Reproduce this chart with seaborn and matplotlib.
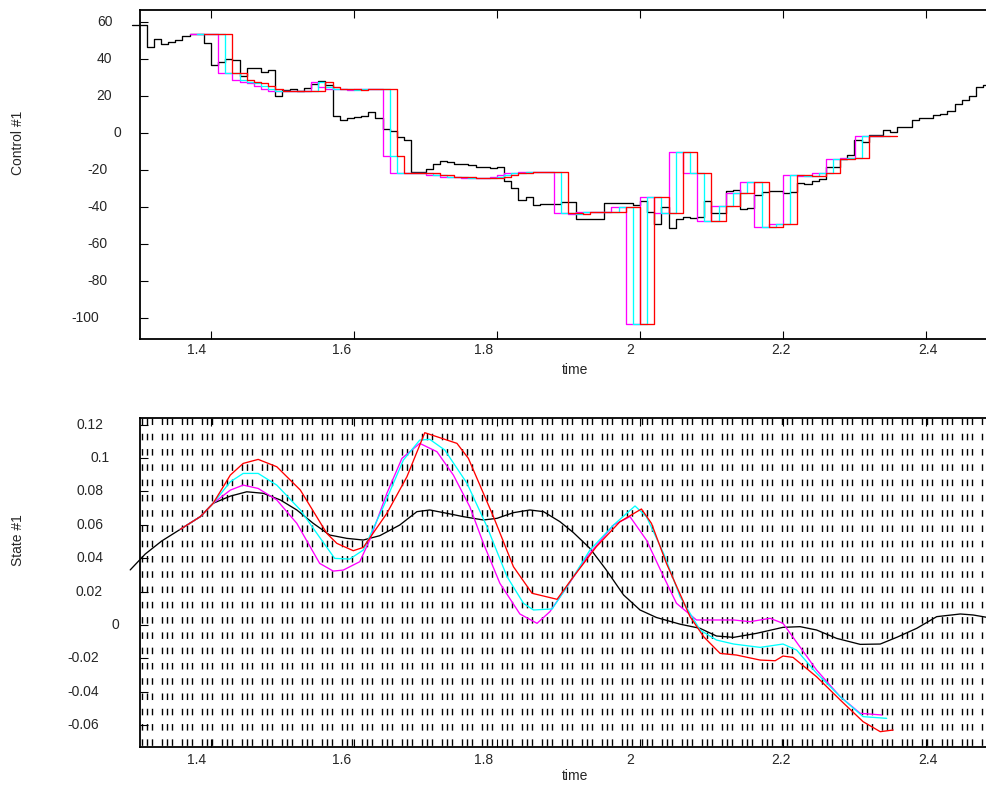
import numpy as np
import pandas as pd
import matplotlib
matplotlib.use("Agg")
import matplotlib.pyplot as plt
import seaborn as sns

sns.set_theme(style="white")
plt.rcParams['font.family'] = ['Liberation Sans', 'DejaVu Sans']

# ---------------- data ----------------
# measured control, sampled every 0.01 s starting at ctrl_t0
ctrl_t0 = 1.29
ctrl_dt = 0.01
ctrl_measured = [
    58.4, 58.4, 46.6, 50.6, 48.0, 49.0, 50.3, 52.4, 53.7, 53.7,
    48.8, 36.8, 38.2, 40.0, 39.5, 30.8, 35.1, 35.1, 33.1, 34.0,
    20.0, 23.2, 23.6, 22.9, 24.3, 26.3, 28.1, 25.8, 9.2, 7.0,
    7.9, 8.5, 9.4, 11.2, 7.9, 2.0, 1.2, -2.3, -3.6, -20.9,
    -21.1, -19.3, -16.8, -15.1, -15.7, -16.9, -16.9, -17.5, -18.2, -18.2,
    -18.7, -18.2, -25.8, -29.5, -36.2, -34.8, -38.9, -38.4, -38.4, -38.4,
    -37.1, -37.1, -46.7, -46.7, -46.7, -46.7, -38.0, -37.6, -38.0, -38.0,
    -38.9, -36.6, -42.5, -49.2, -39.8, -51.5, -46.7, -45.6, -46.1, -45.6,
    -36.8, -43.0, -43.0, -31.5, -31.0, -41.3, -40.7, -33.5, -31.7, -31.4,
    -31.4, -32.3, -31.7, -26.8, -27.6, -25.8, -25.0, -18.2, -18.2, -14.2,
    -11.9, -3.8, -4.9, -1.3, -1.3, 1.6, 0.5, 3.1, 3.1, 7.0,
    8.0, 8.0, 9.5, 10.5, 12.0, 15.7, 17.8, 20.0, 25.0, 26.0,
    27.0,
]

# commanded control, sampled every 0.01 s from cmd_t0, shown with three delays
cmd_t0 = 1.37
cmd_values = [
    53.7, 53.7, 53.7, 53.7, 32.3, 32.3, 28.6, 27.7, 26.9, 25.4,      # 1.37
    23.6, 22.7, 22.7, 22.7, 22.7, 22.7, 22.7, 27.6, 25.0, 23.6,      # 1.47
    23.6, 23.6, 23.2, 23.6, 23.6, 23.6, 23.6, -12.4, -21.4, -21.4,   # 1.57
    -21.8, -21.8, -21.8, -22.7, -22.7, -23.6, -23.6, -23.6, -24.3, -24.3,  # 1.67
    -24.3, -24.3, -23.6, -22.7, -21.8, -21.8, -21.1, -21.1, -21.1, -21.1,  # 1.77
    -21.1, -43.5, -43.0, -44.0, -42.5, -42.5, -42.5, -42.5, -42.5, -39.8,  # 1.87
    -39.8, -103.4, -103.4, -34.4, -34.4, -43.4, -43.4, -10.1, -10.1, -21.5,  # 1.97
    -21.5, -47.6, -47.6, -39.5, -39.5, -32.6, -32.6, -26.3, -26.3, -50.6,  # 2.07
    -50.6, -49.2, -49.2, -22.7, -22.7, -23.5, -23.5, -21.5, -21.5, -14.1,  # 2.17
    -14.1, -13.4, -13.4, -1.6, -1.6, -1.6, -1.6,                          # 2.27
]
cmd_delays = [0.0, 0.01, 0.02]
cmd_colors = ["#ff00ff", "#00ffff", "#ff0000"]

# state #1 trajectories
state_black_t = [1.287, 1.308, 1.331, 1.357, 1.385, 1.403, 1.427, 1.450, 1.473, 1.497,
                 1.520, 1.543, 1.566, 1.590, 1.613, 1.636, 1.664, 1.688, 1.706, 1.730,
                 1.753, 1.781, 1.800, 1.823, 1.846, 1.865, 1.888, 1.907, 1.930, 1.953,
                 1.977, 2.000, 2.023, 2.056, 2.084, 2.107, 2.131, 2.163, 2.200, 2.224,
                 2.247, 2.275, 2.308, 2.336, 2.359, 2.387, 2.415, 2.448, 2.466, 2.485, 2.50]
state_black = [0.033, 0.0425, 0.0503, 0.0573, 0.0649, 0.0729, 0.0772, 0.0798, 0.0789, 0.0749,
               0.0689, 0.0609, 0.0539, 0.0519, 0.0509, 0.0535, 0.0599, 0.0679, 0.0689, 0.0669,
               0.0649, 0.0629, 0.0639, 0.0673, 0.0689, 0.0679, 0.0619, 0.0553, 0.0459, 0.0329,
               0.018, 0.009, 0.0045, 0.0005, -0.002, -0.0066, -0.0074, -0.005, -0.0014, -0.001,
               -0.003, -0.008, -0.0116, -0.0114, -0.0074, -0.002, 0.005, 0.0066, 0.006, 0.0046, 0.0038]

state_mag_t = [1.357, 1.385, 1.403, 1.427, 1.445, 1.466, 1.492, 1.520, 1.552, 1.571,
               1.585, 1.608, 1.622, 1.646, 1.667, 1.692, 1.716, 1.739, 1.762, 1.781,
               1.804, 1.832, 1.856, 1.874, 1.898, 1.926, 1.963, 1.986, 2.009, 2.033,
               2.051, 2.079, 2.107, 2.131, 2.154, 2.182, 2.200, 2.247, 2.280, 2.308, 2.338]
state_mag = [0.0573, 0.0649, 0.0729, 0.0808, 0.0838, 0.0818, 0.0749, 0.0609, 0.0369, 0.0323,
             0.0329, 0.0379, 0.0509, 0.0789, 0.0998, 0.1088, 0.1038, 0.0898, 0.0708, 0.0489,
             0.025, 0.0066, 0.001, 0.008, 0.023, 0.0409, 0.0599, 0.0649, 0.0509, 0.029,
             0.013, 0.003, 0.003, 0.003, 0.002, 0.004, 0.001, -0.027, -0.0429, -0.0529, -0.0539]

state_cyan_t = [1.357, 1.385, 1.403, 1.427, 1.445, 1.466, 1.492, 1.525, 1.548, 1.573,
                1.594, 1.613, 1.641, 1.669, 1.692, 1.706, 1.727, 1.758, 1.786, 1.814,
                1.837, 1.851, 1.877, 1.898, 1.930, 1.963, 1.993, 2.009, 2.033, 2.056,
                2.084, 2.107, 2.131, 2.168, 2.200, 2.219, 2.247, 2.280, 2.312, 2.345]
state_cyan = [0.0573, 0.0649, 0.0729, 0.0858, 0.0908, 0.0908, 0.0838, 0.0689, 0.0549, 0.0399,
              0.0395, 0.0449, 0.0708, 0.0988, 0.1108, 0.1112, 0.1048, 0.0849, 0.0589, 0.029,
              0.013, 0.009, 0.0096, 0.023, 0.0449, 0.0599, 0.0713, 0.0649, 0.0429, 0.017,
              -0.003, -0.009, -0.0114, -0.0134, -0.0114, -0.015, -0.0289, -0.0429, -0.0549, -0.0559]

state_red_t = [1.357, 1.385, 1.403, 1.427, 1.445, 1.466, 1.492, 1.525, 1.562, 1.576,
               1.599, 1.613, 1.646, 1.674, 1.699, 1.744, 1.760, 1.795, 1.823, 1.849,
               1.884, 1.907, 1.939, 1.972, 2.002, 2.016, 2.037, 2.070, 2.089, 2.112,
               2.135, 2.168, 2.189, 2.200, 2.214, 2.247, 2.280, 2.312, 2.336, 2.354]
state_red = [0.0573, 0.0649, 0.0729, 0.0898, 0.0968, 0.0992, 0.0948, 0.0808, 0.0549, 0.0489,
             0.0445, 0.0465, 0.0669, 0.0888, 0.1152, 0.1088, 0.0998, 0.0649, 0.0349, 0.019,
             0.0154, 0.029, 0.0469, 0.0619, 0.0695, 0.0609, 0.0369, 0.005, -0.007, -0.017,
             -0.018, -0.021, -0.0214, -0.0186, -0.0194, -0.031, -0.0449, -0.0579, -0.0639, -0.0629]

# sample instants marked on the state plot: groups of three every frame
frame_t0 = 1.3031
frame_period = 0.02797
frame_offsets = [0.0, 0.00727, 0.01469]
n_frames = 43

xticks = [1.4, 1.6, 1.8, 2.0, 2.2, 2.4]
xtick_labels = ["1.4", "1.6", "1.8", "2", "2.2", "2.4"]
xtick_label_shift_px = [-14, -12, -13, -10, -2, 2]
yticks_ctrl = [60, 40, 20, 0, -20, -40, -60, -80, -100]
yticks_state = [0.12, 0.1, 0.08, 0.06, 0.04, 0.02, 0.0, -0.02, -0.04, -0.06]
ytick_state_labels = ["0.12", "0.1", "0.08", "0.06", "0.04", "0.02", "0", "-0.02", "-0.04", "-0.06"]

# ---------------- figure ----------------
W, H = 987, 787
fig = plt.figure(figsize=(W / 100, H / 100), dpi=100)
ax1 = fig.add_axes([139.5 / W, 1 - 339 / H, 858 / W, 329 / H])
ax2 = fig.add_axes([139.5 / W, 1 - 746.7 / H, 858 / W, 328.7 / H])

LW = 0.95

# control plot
n_ctrl = len(ctrl_measured)
ctrl_df = pd.DataFrame({
    "t": ctrl_t0 + ctrl_dt * np.arange(n_ctrl + 1),
    "u": ctrl_measured + [ctrl_measured[-1]],
})
sns.lineplot(data=ctrl_df, x="t", y="u", ax=ax1, color="black", lw=LW,
             drawstyle="steps-post", estimator=None, sort=False, clip_on=False, zorder=3)

n_cmd = len(cmd_values)
for delay, col in zip(cmd_delays, cmd_colors):
    df = pd.DataFrame({
        "t": cmd_t0 + delay + ctrl_dt * np.arange(n_cmd + 1),
        "u": cmd_values + [cmd_values[-1]],
    })
    sns.lineplot(data=df, x="t", y="u", ax=ax1, color=col, lw=LW,
                 drawstyle="steps-post", estimator=None, sort=False, zorder=4)

ax1.set_xlim(1.3, 2.5)
ax1.set_ylim(-111.4, 66.5)

# state plot
frames = frame_t0 + frame_period * np.arange(n_frames)
marks = np.sort(np.concatenate([frames + off for off in frame_offsets]))
marks = marks[marks < 2.5]
ax2.vlines(marks, 0.124, -0.0729, colors="black", lw=1.0,
           linestyles=[(0, (4.7, 6.3))], zorder=1)
sns.lineplot(x=state_black_t, y=state_black, ax=ax2, color="black", lw=LW,
             estimator=None, sort=False, clip_on=False, zorder=3)
for tt, yy, col in [(state_mag_t, state_mag, "#ff00ff"),
                    (state_cyan_t, state_cyan, "#00ffff"),
                    (state_red_t, state_red, "#ff0000")]:
    sns.lineplot(x=tt, y=yy, ax=ax2, color=col, lw=LW, estimator=None, sort=False, zorder=4)
ax2.set_xlim(1.3, 2.5)
ax2.set_ylim(-0.0729, 0.124)

for ax, yt in [(ax1, yticks_ctrl), (ax2, yticks_state)]:
    ax.set_xticks(xticks)
    ax.set_yticks(yt)
    ax.set_xticklabels([])
    ax.set_yticklabels([])
    ax.set_xlabel("")
    ax.set_ylabel("")
    ax.tick_params(direction="in", length=5.8, width=0.8, top=True, right=True,
                   bottom=True, left=True, colors="black")
    for s in ax.spines.values():
        s.set_color("black")
        s.set_linewidth(1.3)
    ax.grid(False)

# tick labels as positioned text
fs = 10
renderer = fig.canvas.get_renderer()


def px_to_fig(x, y):
    return x / W, 1 - y / H


def ytick_texts(ax, values, labels, r0, c):
    for v, lab in zip(values, labels):
        ydisp = ax.transData.transform((1.5, v))[1]
        t = fig.text(0, ydisp / H, lab, fontsize=fs, ha="left", va="center")
        w = t.get_window_extent(renderer).width
        t.set_x((r0 - (1 + c) * w) / W)


ytick_texts(ax1, yticks_ctrl, [str(v) for v in yticks_ctrl], 129.5, 1.1)
ytick_texts(ax2, yticks_state, ytick_state_labels, 126.0, 0.85)

for ax, ypx in [(ax1, 350), (ax2, 760)]:
    for v, lab, dx in zip(xticks, xtick_labels, xtick_label_shift_px):
        xdisp = ax.transData.transform((v, 0))[0]
        fig.text((xdisp + dx) / W, 1 - ypx / H, lab, fontsize=fs, ha="center", va="center")

fig.text(*px_to_fig(18, 143), "Control #1", fontsize=fs, rotation=90, ha="center", va="center")
fig.text(*px_to_fig(18, 540), "State #1", fontsize=fs, rotation=90, ha="center", va="center")
fig.text(*px_to_fig(575, 370), "time", fontsize=fs, ha="center", va="center")
fig.text(*px_to_fig(575, 776), "time", fontsize=fs, ha="center", va="center")

fig.savefig("out.png", dpi=100)
